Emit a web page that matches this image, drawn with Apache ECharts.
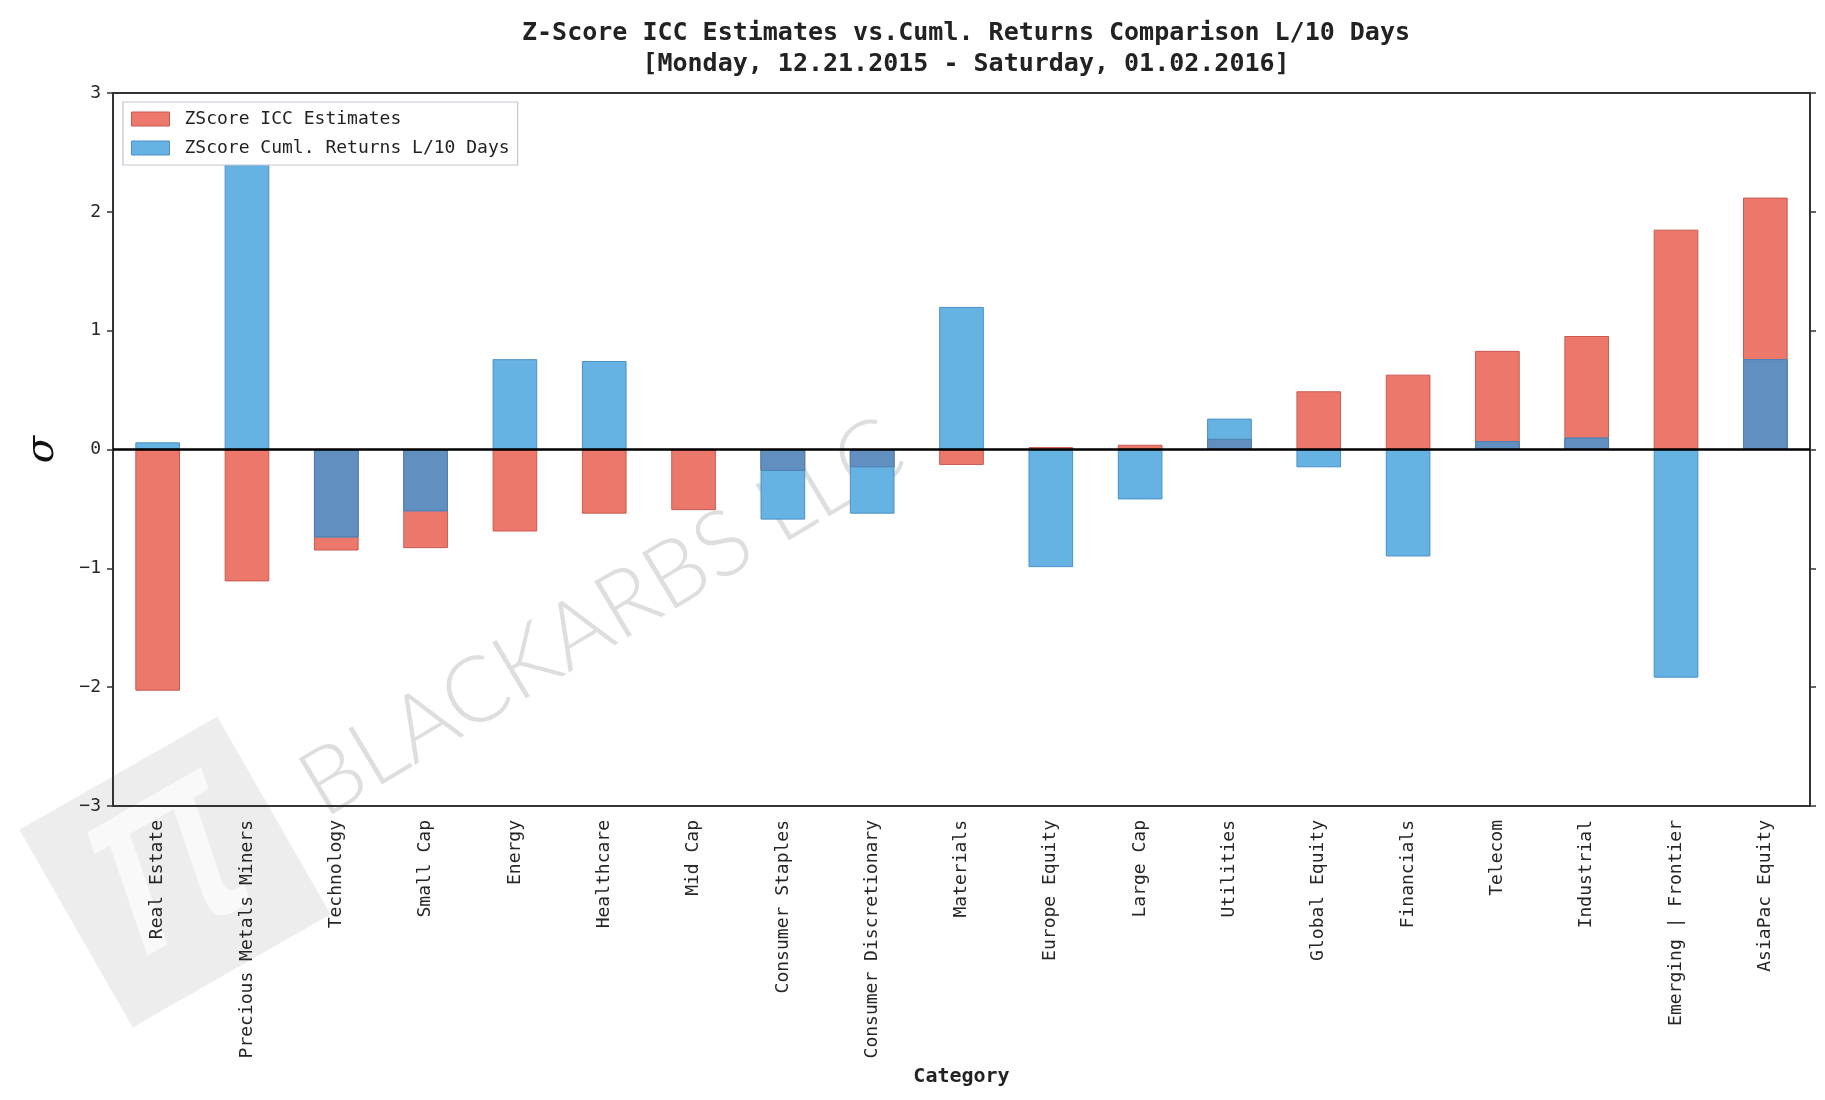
<!DOCTYPE html>
<html>
<head>
<meta charset="utf-8">
<script src="https://cdn.jsdelivr.net/npm/echarts@6/dist/echarts.min.js"></script>
<style>html,body{margin:0;padding:0;background:#fff}#c{width:1825px;height:1100px}</style>
</head>
<body>
<div id="c"></div>
<script>
const categories = ['Real Estate','Precious Metals Miners','Technology','Small Cap','Energy','Healthcare','Mid Cap','Consumer Staples','Consumer Discretionary','Materials','Europe Equity','Large Cap','Utilities','Global Equity','Financials','Telecom','Industrial','Emerging | Frontier','AsiaPac Equity'];
const iccEstimates = [-2.03,-1.11,-0.85,-0.83,-0.69,-0.54,-0.51,-0.18,-0.15,-0.13,0.02,0.04,0.09,0.49,0.63,0.83,0.955,1.85,2.12];
const cumlReturns = [0.06,2.6,-0.74,-0.52,0.76,0.745,0.0,-0.59,-0.54,1.20,-0.99,-0.42,0.26,-0.15,-0.90,0.07,0.10,-1.92,0.76];
const yTicks = [-3,-2,-1,0,1,2,3];
const titleLines = ['Z-Score ICC Estimates vs.Cuml. Returns Comparison L/10 Days','[Monday, 12.21.2015 - Saturday, 01.02.2016]'];

// overlap region of the two translucent bars (darker where they stack)
const overlap = iccEstimates.map((a,i)=>{const b=cumlReturns[i];return (a*b>0)?Math.sign(a)*Math.min(Math.abs(a),Math.abs(b)):0;});

const MONO = 'DejaVu Sans Mono';
const chart = echarts.init(document.getElementById('c'), null, {renderer:'canvas'});
const axisCol = '#333333';
chart.setOption({
  backgroundColor:'#ffffff',
  animation:false,
  title:{
    text: titleLines.join('\n'),
    left: 961, textAlign:'center', top: 13,
    textStyle:{fontFamily:MONO,fontWeight:'bold',fontSize:25,color:'#222',lineHeight:31}
  },
  legend:{
    orient:'vertical', left:123, top:102,
    padding:[8,8,8,8], itemGap:11, itemWidth:38, itemHeight:14, icon:'rect',
    backgroundColor:'#ffffff', borderColor:'#c4c4d4', borderWidth:1.2, borderRadius:0,
    textStyle:{fontFamily:MONO,fontSize:18,color:'#222',padding:[0,0,0,10]},
    data:[
      {name:'ZScore ICC Estimates', itemStyle:{color:'#ec786b',borderColor:'#c95a4f',borderWidth:1}},
      {name:'ZScore Cuml. Returns L/10 Days', itemStyle:{color:'#66b2e3',borderColor:'#4b8fc6',borderWidth:1}}
    ],
    z:10
  },
  grid:{left:113, right:15, top:93, bottom:294, containLabel:false},
  xAxis:[{
    type:'category', data:categories, position:'bottom',
    name:'Category', nameLocation:'middle', nameGap:253,
    nameTextStyle:{fontFamily:MONO,fontWeight:'bold',fontSize:20,color:'#222'},
    axisLine:{onZero:false,lineStyle:{color:axisCol,width:2}},
    axisTick:{alignWithLabel:true,length:6,lineStyle:{color:axisCol,width:1.5}},
    axisLabel:{rotate:90,fontFamily:MONO,fontSize:18,color:'#262626',margin:14},
    splitLine:{show:false}
  },{
    type:'category', data:categories, position:'top',
    axisLine:{onZero:false,lineStyle:{color:axisCol,width:2}},
    axisTick:{alignWithLabel:true,length:6,lineStyle:{color:axisCol,width:1.5}},
    axisLabel:{show:false}, splitLine:{show:false}
  }],
  yAxis:[{
    type:'value', min:yTicks[0], max:yTicks[yTicks.length-1], interval:1, position:'left',
    name:'σ', nameLocation:'middle', nameGap:50, nameRotate:90,
    nameTextStyle:{fontFamily:'DejaVu Serif',fontStyle:'italic',fontSize:40,color:'#111'},
    axisLine:{show:true,onZero:false,lineStyle:{color:axisCol,width:2}},
    axisTick:{show:true,length:6,lineStyle:{color:axisCol,width:1.5}},
    axisLabel:{fontFamily:MONO,fontSize:18,color:'#262626',margin:12,
      formatter:v=>v<0?'\u2212'+Math.abs(v):String(v)},
    splitLine:{show:false}
  },{
    type:'value', min:yTicks[0], max:yTicks[yTicks.length-1], interval:1, position:'right',
    axisLine:{show:true,onZero:false,lineStyle:{color:axisCol,width:2}},
    axisTick:{show:true,length:6,lineStyle:{color:axisCol,width:1.5}},
    axisLabel:{show:false}, splitLine:{show:false}
  }],
  graphic:[
    {type:'group', x:175, y:872, rotation:0.52, z:-10, silent:true, children:[
      {type:'rect', shape:{x:-114,y:-114,width:228,height:228}, style:{fill:'#ebebeb',opacity:0.9}},
      {type:'text', x:-4, y:-6, style:{text:'π', fontFamily:'DejaVu Sans', fontStyle:'italic', fontSize:250, fill:'#f9f9f9', align:'center', verticalAlign:'middle'}}
    ]},
    {type:'text', x:602, y:618, rotation:0.54, z:-10, silent:true,
      style:{text:'BLACKARBS LLC', fontFamily:'Lato', fontWeight:300, fontSize:92, fill:'#dedede', align:'center', verticalAlign:'middle'}}
  ],
  series:[
    {name:'ZScore ICC Estimates', type:'bar', data:iccEstimates, barWidth:'50%', barGap:'-100%',
      itemStyle:{color:'#ec786b',borderColor:'#c95a4f',borderWidth:1},
      markLine:{silent:true,symbol:'none',label:{show:false},lineStyle:{color:'#000',width:2.5,type:'solid'},data:[{yAxis:0}],z:10}},
    {name:'ZScore Cuml. Returns L/10 Days', type:'bar', data:cumlReturns, barWidth:'50%', barGap:'-100%',
      itemStyle:{color:'#66b2e3',borderColor:'#4b8fc6',borderWidth:1}},
    {name:'overlap', type:'bar', data:overlap, barWidth:'50%', barGap:'-100%',
      itemStyle:{color:'#6190c0',borderColor:'#4f7fb0',borderWidth:1}}
  ]
});
</script>
</body>
</html>
